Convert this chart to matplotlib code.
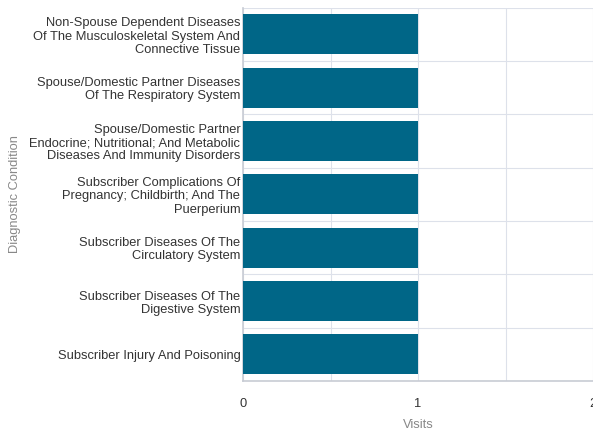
import numpy as np
import matplotlib.pyplot as plt

plt.rcParams['font.family'] = ['Liberation Sans', 'DejaVu Sans']

conditions = [
    "Non-Spouse Dependent Diseases\nOf The Musculoskeletal System And\nConnective Tissue",
    "Spouse/Domestic Partner Diseases\nOf The Respiratory System",
    "Spouse/Domestic Partner\nEndocrine; Nutritional; And Metabolic\nDiseases And Immunity Disorders",
    "Subscriber Complications Of\nPregnancy; Childbirth; And The\nPuerperium",
    "Subscriber Diseases Of The\nCirculatory System",
    "Subscriber Diseases Of The\nDigestive System",
    "Subscriber Injury And Poisoning",
]
visits = [1, 1, 1, 1, 1, 1, 1]

fig = plt.figure(figsize=(5.93, 4.34), dpi=100)
ax = fig.add_axes([0.41, 0.122, 0.59, 0.86])

y = np.arange(len(conditions))
ax.barh(y, visits, height=0.75, color='#006687', zorder=3)

ax.set_ylim(len(conditions) - 0.5, -0.5)
ax.set_xlim(0, 2)
ax.set_xticks([0, 1, 2])
ax.set_xticks([0.5, 1.5], minor=True)
ax.set_yticks(y)
ax.set_yticklabels(conditions, fontsize=9.3, color='#333333', linespacing=1.12)
ax.set_yticks(np.arange(-0.5, len(conditions)), minor=True)
ax.tick_params(axis='x', labelsize=9.3, colors='#333333', length=0, pad=12, which='both')
ax.tick_params(axis='y', length=0, pad=2, which='both')

ax.grid(True, which='both', axis='x', color='#dde1ea', linewidth=0.8, zorder=0)
ax.grid(True, which='minor', axis='y', color='#dde1ea', linewidth=0.8, zorder=0)

for s in ['top', 'right']:
    ax.spines[s].set_visible(False)
for s in ['left', 'bottom']:
    ax.spines[s].set_color('#c8ccd4')
    ax.spines[s].set_linewidth(1.2)

ax.set_xlabel('Visits', fontsize=9.3, color='#888888', labelpad=7)
ax.set_ylabel('Diagnostic Condition', fontsize=9.3, color='#888888')
ax.yaxis.set_label_coords(-0.635, 0.5)

fig.savefig('out.png', dpi=100)
